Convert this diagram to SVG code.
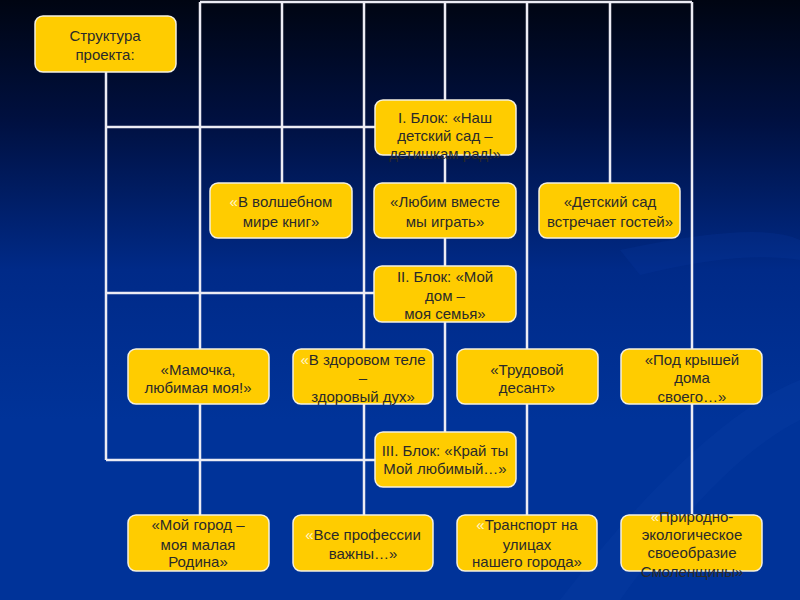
<svg xmlns="http://www.w3.org/2000/svg" width="800" height="600" viewBox="0 0 800 600">
<defs>
<linearGradient id="bg" x1="0" y1="0" x2="0" y2="1">
<stop offset="0" stop-color="#000512"/>
<stop offset="0.2" stop-color="#001040"/>
<stop offset="0.45" stop-color="#002a88"/>
<stop offset="0.7" stop-color="#003399"/>
<stop offset="1" stop-color="#003399"/>
</linearGradient>
<style>
.box{fill:#FFCC00;stroke:#f4f0e0;stroke-width:1.5}
.t{font-family:"Liberation Sans",Arial,sans-serif;font-size:15px;fill:#2a2a2a;text-anchor:middle}
.q{fill:#fff6cc}
.ln{stroke:#ececf4;stroke-width:2.5;fill:none}
</style>
</defs>
<rect width="800" height="600" fill="url(#bg)"/>
<path d="M560 600 Q700 420 800 380 L800 420 Q720 460 620 600 Z" fill="#0a3ea6" opacity="0.3"/>
<path d="M620 250 Q760 220 800 240 L800 260 Q740 250 640 275 Z" fill="#0a3ea6" opacity="0.2"/>
<g id="connectors" class="ln">
<path d="M200 2 H692"/>
<path d="M106 72 V460"/>
<path d="M106 127 H375"/>
<path d="M106 293 H375"/>
<path d="M106 460 H375"/>
<path d="M200 2 V515"/>
<path d="M282 2 V183"/>
<path d="M364 2 V515"/>
<path d="M445 2 V432"/>
<path d="M527 2 V515"/>
<path d="M610 2 V183"/>
<path d="M692 2 V515"/>
</g>
<g id="n-root"><rect class="box" x="35" y="16" width="141" height="56" rx="8"/>
<text class="t" x="105" y="41">Структура</text><text class="t" x="105" y="60">проекта:</text></g>
<g id="n-block1"><rect class="box" x="375" y="100" width="141" height="55" rx="8"/>
<text class="t" x="445" y="123">I. Блок: «Наш</text><text class="t" x="445" y="141">детский сад –</text><text class="t" x="445" y="159">детишкам рад!»</text></g>
<g id="n-books"><rect class="box" x="210" y="183" width="142" height="55" rx="8"/>
<text class="t" x="281" y="207"><tspan class="q">«</tspan>В волшебном</text><text class="t" x="281" y="227">мире книг»</text></g>
<g id="n-play"><rect class="box" x="374" y="183" width="142" height="55" rx="8"/>
<text class="t" x="445" y="207">«Любим вместе</text><text class="t" x="445" y="227">мы играть»</text></g>
<g id="n-guests"><rect class="box" x="539" y="183" width="141" height="55" rx="8"/>
<text class="t" x="610" y="207">«Детский сад</text><text class="t" x="610" y="227">встречает гостей»</text></g>
<g id="n-block2"><rect class="box" x="374" y="266" width="142" height="56" rx="8"/>
<text class="t" x="445" y="282">II. Блок: «Мой</text><text class="t" x="445" y="301">дом –</text><text class="t" x="445" y="319">моя семья»</text></g>
<g id="n-mama"><rect class="box" x="128" y="349" width="141" height="55" rx="8"/>
<text class="t" x="198" y="375">«Мамочка,</text><text class="t" x="198" y="393">любимая моя!»</text></g>
<g id="n-health"><rect class="box" x="293" y="349" width="140" height="55" rx="8"/>
<text class="t" x="363" y="365"><tspan class="q">«</tspan>В здоровом теле</text><text class="t" x="363" y="383">–</text><text class="t" x="363" y="402">здоровый дух»</text></g>
<g id="n-labor"><rect class="box" x="457" y="349" width="141" height="55" rx="8"/>
<text class="t" x="527" y="375">«Трудовой</text><text class="t" x="527" y="393">десант»</text></g>
<g id="n-roof"><rect class="box" x="621" y="349" width="141" height="55" rx="8"/>
<text class="t" x="692" y="365">«Под крышей</text><text class="t" x="692" y="383">дома</text><text class="t" x="692" y="402">своего…»</text></g>
<g id="n-block3"><rect class="box" x="375" y="432" width="141" height="55" rx="8"/>
<text class="t" x="445" y="456">III. Блок: «Край ты</text><text class="t" x="445" y="474">Мой любимый…»</text></g>
<g id="n-city"><rect class="box" x="128" y="515" width="141" height="56" rx="8"/>
<text class="t" x="198" y="530">«Мой город –</text><text class="t" x="198" y="550">моя малая</text><text class="t" x="198" y="567">Родина»</text></g>
<g id="n-prof"><rect class="box" x="293" y="515" width="140" height="56" rx="8"/>
<text class="t" x="363" y="540"><tspan class="q">«</tspan>Все профессии</text><text class="t" x="363" y="559">важны…»</text></g>
<g id="n-transport"><rect class="box" x="457" y="515" width="140" height="56" rx="8"/>
<text class="t" x="527" y="530"><tspan class="q">«</tspan>Транспорт на</text><text class="t" x="527" y="550">улицах</text><text class="t" x="527" y="567">нашего города»</text></g>
<g id="n-nature"><rect class="box" x="621" y="515" width="141" height="56" rx="8"/>
<text class="t" x="692" y="522"><tspan class="q">«</tspan>Природно-</text><text class="t" x="692" y="540">экологическое</text><text class="t" x="692" y="558">своеобразие</text><text class="t" x="692" y="577">Смоленщины»</text></g>
</svg>
